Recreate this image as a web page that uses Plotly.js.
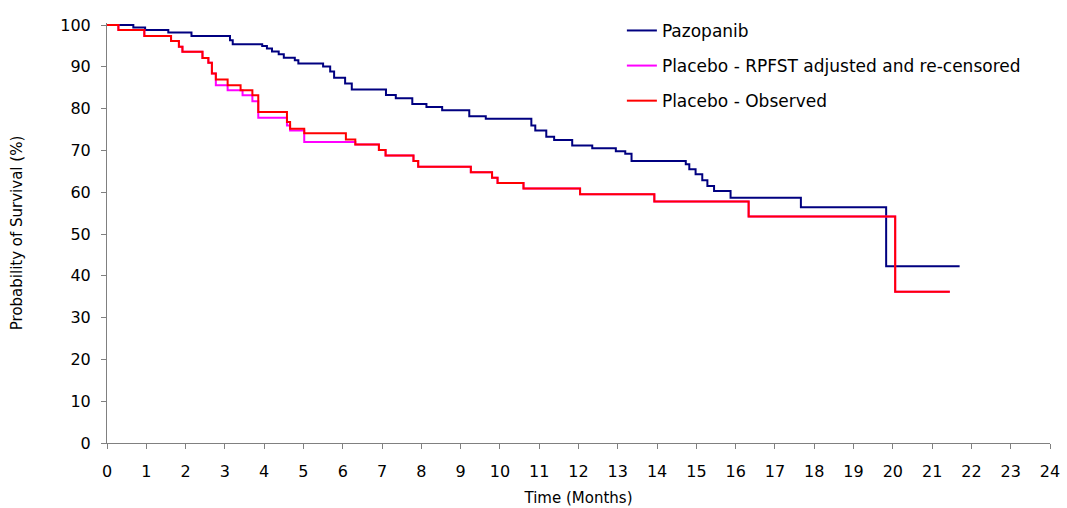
<!DOCTYPE html>
<html>
<head>
<meta charset="utf-8">
<script src="https://cdn.plot.ly/plotly-3.0.1.min.js"></script>
<style>
  html, body { margin: 0; padding: 0; background: #ffffff; }
  #chart { width: 1067px; height: 508px; }
</style>
</head>
<body>
<div id="chart"></div>
<script>
// Pazopanib: step times (months) and survival (%) after each step
const pazoTime = [0, 0.67, 0.97, 1.56, 2.15, 3.13, 3.2, 3.95, 4.07, 4.2, 4.37, 4.5, 4.78, 4.87, 5.5, 5.68, 5.78, 6.06, 6.23, 7.1, 7.35, 7.77, 8.13, 8.53, 9.22, 9.64, 10.8, 10.9, 11.18, 11.38, 11.84, 12.35, 12.95, 13.19, 13.35, 14.73, 14.82, 14.98, 15.15, 15.28, 15.45, 15.87, 17.66, 19.83, 21.7];
const pazoSurv = [100, 99.4, 98.8, 98.2, 97.4, 96.4, 95.4, 95.0, 94.4, 93.7, 93.0, 92.2, 91.6, 90.8, 90.1, 88.9, 87.4, 86.0, 84.6, 83.3, 82.5, 81.1, 80.4, 79.6, 78.2, 77.6, 76.0, 74.8, 73.3, 72.5, 71.2, 70.5, 69.8, 69.2, 67.5, 66.7, 65.5, 64.3, 62.9, 61.5, 60.3, 58.7, 56.4, 42.3, 42.3];

// Placebo - RPFST adjusted and re-censored
const rpfstTime = [0, 0.29, 0.95, 1.63, 1.83, 1.92, 2.43, 2.58, 2.67, 2.77, 3.07, 3.45, 3.7, 3.85, 4.58, 4.66, 5.02, 6.32, 6.92, 7.09, 7.8, 7.92, 9.26, 9.8, 9.94, 10.6, 12.04, 13.93, 16.33, 20.06, 21.45];
const rpfstSurv = [100, 98.8, 97.4, 96.2, 94.8, 93.6, 92.1, 91.0, 88.4, 85.6, 84.4, 83.2, 81.8, 77.8, 76.0, 74.8, 72.0, 71.4, 70.1, 68.8, 67.5, 66.1, 64.8, 63.5, 62.2, 60.9, 59.5, 57.8, 54.2, 36.2, 36.2];

// Placebo - Observed
const obsTime = [0, 0.29, 0.95, 1.63, 1.83, 1.92, 2.43, 2.58, 2.67, 2.77, 3.07, 3.4, 3.7, 3.85, 4.58, 4.66, 5.02, 6.08, 6.32, 6.92, 7.09, 7.8, 7.92, 9.26, 9.8, 9.94, 10.6, 12.04, 13.93, 16.33, 20.06, 21.45];
const obsSurv = [100, 98.8, 97.4, 96.2, 94.8, 93.6, 92.1, 91.0, 88.4, 87.0, 85.6, 84.4, 83.2, 79.2, 76.8, 75.2, 74.1, 72.6, 71.4, 70.1, 68.8, 67.5, 66.1, 64.8, 63.5, 62.2, 60.9, 59.5, 57.8, 54.2, 36.2, 36.2];

const seriesNames = ["Pazopanib", "Placebo - RPFST adjusted and re-censored", "Placebo - Observed"];
const xTicks = [0,1,2,3,4,5,6,7,8,9,10,11,12,13,14,15,16,17,18,19,20,21,22,23,24];
const yTicks = [0,10,20,30,40,50,60,70,80,90,100];

const FONT = "DejaVu Sans, Verdana, sans-serif";

function stepTrace(x, y, name, color, group) {
  return {
    x: x, y: y, name: name, type: "scatter", mode: "lines",
    line: { shape: "hv", color: color, width: 2 },
    legendgroup: group, hoverinfo: "x+y"
  };
}

const data = [
  stepTrace(pazoTime, pazoSurv, seriesNames[0], "#000080", "g1"),
  stepTrace(rpfstTime, rpfstSurv, seriesNames[1], "#FF00FF", "g2"),
  stepTrace(obsTime, obsSurv, seriesNames[2], "#FF0000", "g3")
];

const layout = {
  width: 1067, height: 508,
  margin: { l: 107, r: 17, t: 23, b: 65, pad: 0 },
  paper_bgcolor: "#ffffff", plot_bgcolor: "#ffffff",
  font: { family: FONT, color: "#000000", size: 15 },
  showlegend: true,
  legend: {
    x: 0.546, y: 1.024, xanchor: "left", yanchor: "top",
    font: { family: FONT, size: 17, color: "#000000" },
    bgcolor: "rgba(0,0,0,0)", borderwidth: 0,
    tracegroupgap: 10, traceorder: "grouped"
  },
  xaxis: {
    range: [0, 24], tickmode: "array", tickvals: xTicks, ticktext: xTicks.map(String),
    showgrid: false, zeroline: false,
    showline: true, linecolor: "#808080", linewidth: 1,
    ticks: "outside", ticklen: 5, tickcolor: "#808080", tickwidth: 1,
    tickfont: { family: FONT, size: 16, color: "#000000" },
    ticklabelstandoff: 9,
    title: { text: "Time (Months)", font: { family: FONT, size: 15, color: "#000000" }, standoff: 12 }
  },
  yaxis: {
    range: [0, 100.5], tickmode: "array", tickvals: yTicks, ticktext: yTicks.map(String),
    showgrid: false, zeroline: false,
    showline: true, linecolor: "#808080", linewidth: 1,
    ticks: "outside", ticklen: 5, tickcolor: "#808080", tickwidth: 1,
    tickfont: { family: FONT, size: 16, color: "#000000" },
    ticklabelstandoff: 7,
    title: { text: "Probability of Survival (%)", font: { family: FONT, size: 15, color: "#000000" }, standoff: 34 }
  }
};

Plotly.newPlot("chart", data, layout, { displayModeBar: false, staticPlot: true });
</script>
</body>
</html>
